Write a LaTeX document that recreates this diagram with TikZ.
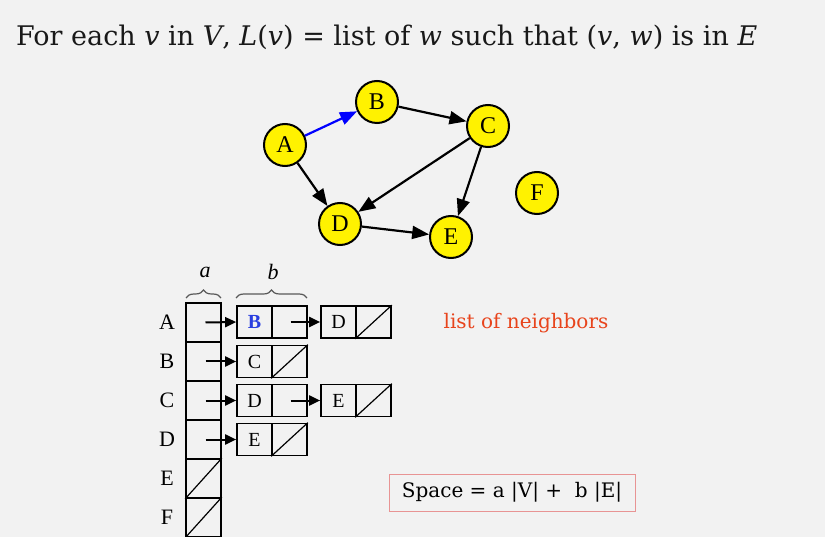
\documentclass[tikz,border=0pt]{standalone}
\usepackage{fontspec}
\setmainfont{Liberation Serif}
\newfontfamily\titlefont{DejaVu Serif}
\usetikzlibrary{arrows.meta,decorations.pathreplacing}
\definecolor{bgc}{HTML}{F2F2F2}
\definecolor{nbr}{HTML}{E8441C}
\definecolor{boxred}{HTML}{E89494}
\definecolor{bblue}{HTML}{2A3FE0}
\tikzset{
  vtx/.style={circle,draw=black,fill=yellow,line width=2pt,minimum size=42pt,inner sep=0pt,font=\fontsize{24}{24}\selectfont},
  edge/.style={line width=2.2pt,-{Triangle[length=17pt,width=13pt]}},
  slot/.style={draw=black,line width=1.7pt,minimum width=35pt,minimum height=39pt,inner sep=0pt},
  half/.style={draw=black,line width=1.7pt,minimum width=35pt,minimum height=32pt,inner sep=0pt,font=\fontsize{20}{20}\selectfont},
  ptr/.style={line width=2pt,-{Triangle[length=11pt,width=10pt]}},
  rowlab/.style={font=\fontsize{22}{22}\selectfont},
  brc/.style={draw=black!65,line width=1.2pt,decorate,decoration={brace,amplitude=8pt}}
}
\begin{document}
\begin{tikzpicture}[x=1pt,y=-1pt]
\fill[bgc] (0,0) rectangle (825,537);
\useasboundingbox (0,0) rectangle (825,537);

\node[anchor=base west,inner sep=0pt,text=black!90] (title) at (16,46)
  {\titlefont\fontsize{27}{27}\selectfont For each \textit{v} in \textit{V}, \textit{L}(\textit{v}) = list of \textit{w} such that (\textit{v}, \textit{w}) is in \textit{E}};

% graph
\node[vtx] (A) at (285,145) {A};
\node[vtx] (B) at (377,102) {B};
\node[vtx] (C) at (488,126) {C};
\node[vtx] (D) at (340,224) {D};
\node[vtx] (E) at (451,237) {E};
\node[vtx] (F) at (537,193) {F};
\draw[edge,blue] (A) -- (B);
\draw[edge] (B) -- (C);
\draw[edge] (C) -- (D);
\draw[edge] (C) -- (E);
\draw[edge] (A) -- (D);
\draw[edge] (D) -- (E);

% array column
\foreach \n/\y in {A/322.5,B/361.5,C/400.5,D/439.5,E/478.5,F/517.5}{
  \node[slot] (s\n) at (203.5,\y) {};
  \node[rowlab] (l\n) at (167,\y) {\n};
}
\draw[line width=1.2pt] (sE.south west) -- (sE.north east);
\draw[line width=1.2pt] (sF.south west) -- (sF.north east);

% list cells
\node[half,text=bblue,font=\fontsize{20}{20}\selectfont\bfseries] (a1) at (254.5,322) {B};
\node[half] (a1p) at (289.5,322) {};
\node[half] (a2) at (338.5,322) {D};
\node[half] (a2p) at (373.5,322) {};
\node[half] (b1) at (254.5,361.5) {C};
\node[half] (b1p) at (289.5,361.5) {};
\node[half] (c1) at (254.5,400.5) {D};
\node[half] (c1p) at (289.5,400.5) {};
\node[half] (c2) at (338.5,400.5) {E};
\node[half] (c2p) at (373.5,400.5) {};
\node[half] (d1) at (254.5,439.5) {E};
\node[half] (d1p) at (289.5,439.5) {};
\foreach \p in {a2p,b1p,c2p,d1p}{
  \draw[line width=1.2pt] (\p.south west) -- (\p.north east);
}

% pointers
\foreach \s/\t in {sA/a1,sB/b1,sC/c1,sD/d1}{
  \coordinate (\s0) at ([xshift=2pt]\s.center);
  \draw[ptr] (\s0) -- (\t.west);
}
\foreach \s/\t in {a1p/a2,c1p/c2}{
  \coordinate (\s0) at ([xshift=1pt]\s.center);
  \draw[ptr] (\s0) -- (\t.west);
}

% braces
\draw[brc] (186,298) -- (221,298);
\node[font=\fontsize{22}{22}\selectfont\itshape] (la) at (205,272) {a};
\draw[brc] (236,298) -- (307,298);
\node[font=\fontsize{22}{22}\selectfont\itshape] (lb) at (273,272) {b};

% texts
\node[text=nbr,font=\titlefont\fontsize{20}{20}\selectfont] (nb) at (526,323) {list of neighbors};
\node[draw=boxred,line width=1pt,minimum width=246pt,minimum height=37pt,inner sep=0pt,
  font=\titlefont\fontsize{20}{20}\selectfont] (space) at (512,492.5) {Space = a |V| +\ \ b |E|};
\end{tikzpicture}
\end{document}
